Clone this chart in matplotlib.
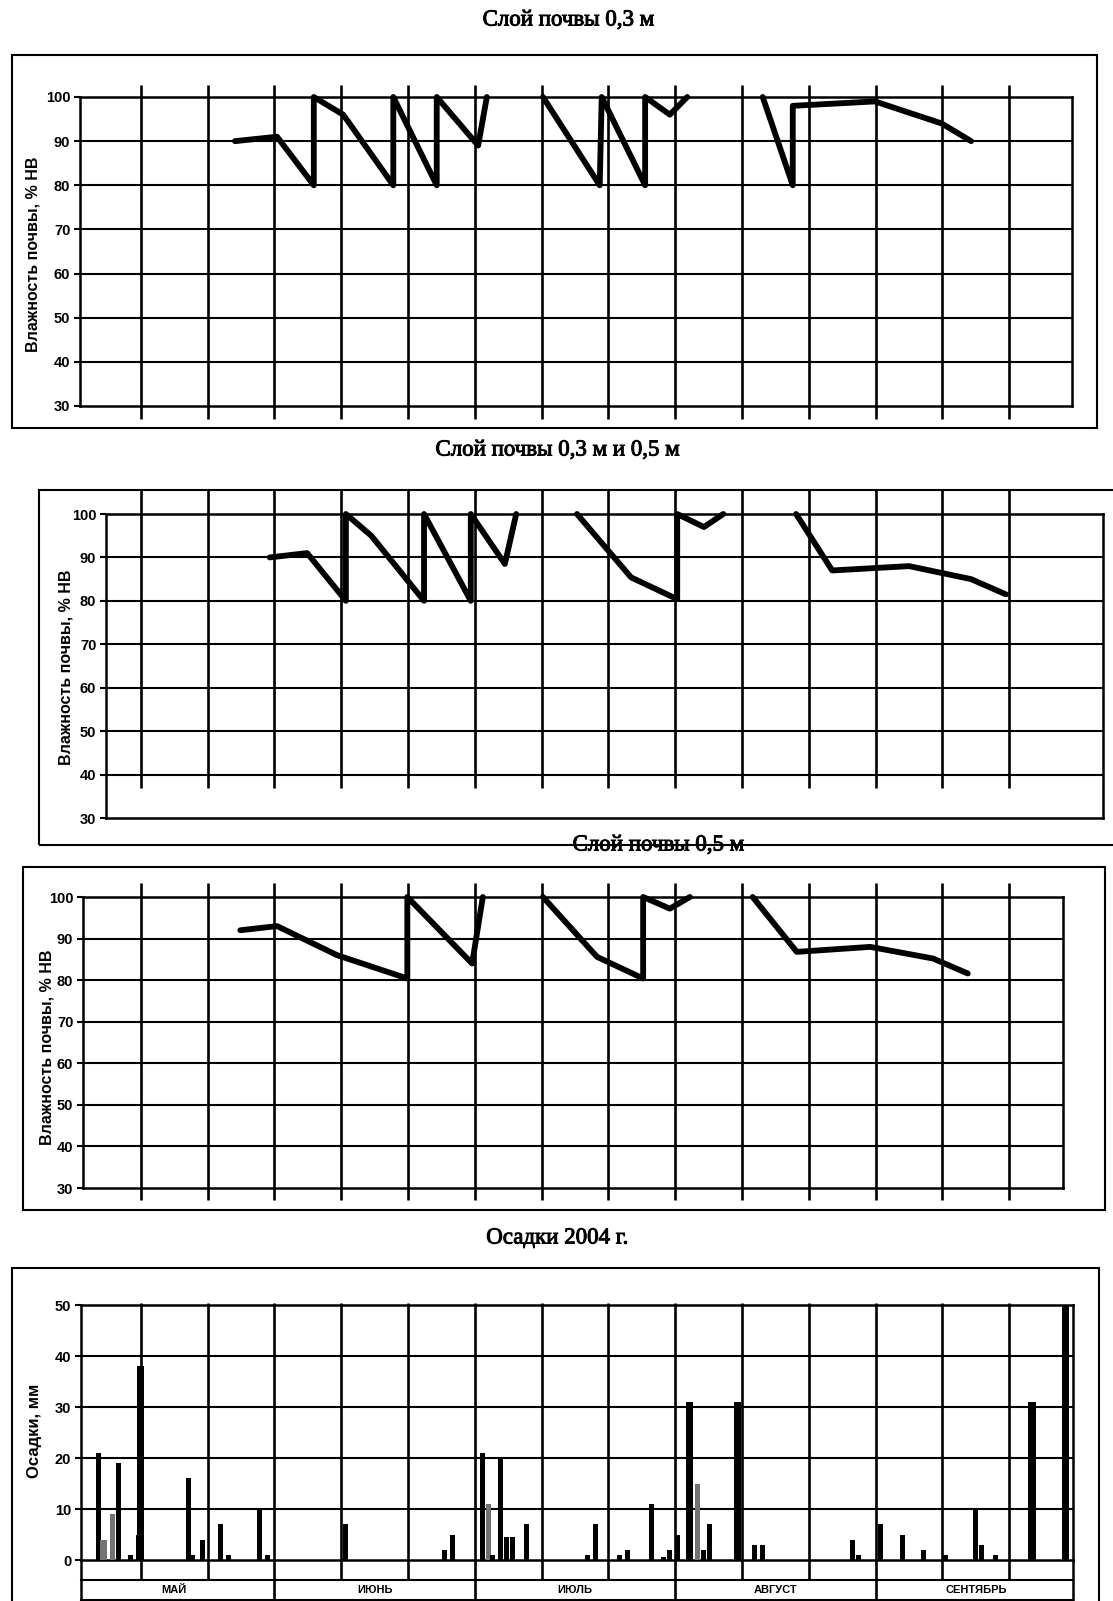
import numpy as np
import matplotlib
matplotlib.use("Agg")
import matplotlib.pyplot as plt
import matplotlib.transforms as mtransforms
import matplotlib.patheffects as pe
from matplotlib.patches import Rectangle

nan = np.nan

# ---------------- data ----------------
titles = ["Слой почвы 0,3 м", "Слой почвы 0,3 м и 0,5 м", "Слой почвы 0,5 м", "Осадки 2004 г."]
moist_label = "Влажность почвы, % НВ"
precip_label = "Осадки, мм"
months = ["МАЙ", "ИЮНЬ", "ИЮЛЬ", "АВГУСТ", "СЕНТЯБРЬ"]
moist_ticks = [30, 40, 50, 60, 70, 80, 90, 100]
precip_ticks = [0, 10, 20, 30, 40, 50]
dekad_bounds = [1, 2, 3, 4, 5, 6, 7, 8, 9, 10, 11, 12, 13, 14]
month_bounds = [3, 6, 9, 12]

# soil moisture, % НВ ; x = dekads counted from 1 May (nan = break of the line)
m03_x = [2.41, 3.04, 3.59, 3.59, 4.03, 4.78, 4.78, 5.43, 5.43, 6.05, 6.18, nan,
         7.02, 7.87, 7.90, 8.55, 8.55, 8.92, 9.18, nan,
         10.31, 10.76, 10.76, 11.99, 12.99, 13.43]
m03_y = [90, 91, 80, 100, 96, 80, 100, 80, 100, 89, 100, nan,
         100, 80, 100, 80, 100, 96, 100, nan,
         100, 80, 98, 99, 94, 90]

m0305_x = [2.93, 3.49, 4.07, 4.07, 4.45, 5.24, 5.24, 5.94, 5.94, 6.45, 6.62, nan,
           7.53, 8.34, 9.03, 9.03, 9.43, 9.72, nan,
           10.81, 11.35, 12.50, 13.43, 13.95]
m0305_y = [90, 91, 80, 100, 95, 80, 100, 80, 100, 88.5, 100, nan,
           100, 85.4, 80.4, 100, 97, 100, nan,
           100, 87, 88, 85, 81.5]

m05_x = [2.49, 3.04, 3.94, 4.99, 4.99, 5.96, 6.12, nan,
         7.02, 7.83, 8.52, 8.52, 8.92, 9.22, nan,
         10.16, 10.82, 11.92, 12.86, 13.38]
m05_y = [92, 93, 86, 80.4, 100, 84, 100, nan,
         100, 85.6, 80.4, 100, 97.2, 100, nan,
         100, 86.8, 88, 85.2, 81.6]

# precipitation, mm
precip_x = [0.36, 0.42, 0.46, 0.57, 0.66, 0.84, 0.96, 1.00, 1.71, 1.78, 1.92, 2.19, 2.31,
            2.78, 2.89, 4.06, 5.55, 5.67, 6.12, 6.20, 6.26, 6.38, 6.48, 6.57, 6.78,
            7.69, 7.80, 8.17, 8.28, 8.65, 8.82, 8.92, 9.03, 9.21, 9.33, 9.42, 9.52,
            9.93, 10.19, 10.31, 11.65, 11.74, 12.07, 12.41, 12.71, 13.04, 13.49, 13.59,
            13.79, 14.34, 14.84]
precip_mm = [21, 4, 4, 9, 19, 1, 5, 38, 16, 1, 4, 7, 1,
             10, 1, 7, 2, 5, 21, 11, 1, 20, 4.5, 4.5, 7,
             1, 7, 1, 2, 11, 0.5, 2, 5, 31, 15, 2, 7,
             31, 3, 3, 4, 1, 7, 5, 2, 1, 10, 3,
             1, 31, 50]
grey_bars = [0.42, 0.46, 0.57, 6.20, 9.33]

# ---------------- layout helpers ----------------
W, H = 1113, 1601
plt.rcParams['font.family'] = ['Liberation Sans', 'DejaVu Sans']
fig = plt.figure(figsize=(W / 100, H / 100), dpi=100)
fig.patch.set_facecolor('white')


def dk(px):
    return (px - 74.0) / 66.8


def add_frame(l, t, r, b):
    fig.add_artist(Rectangle((l / W, 1 - b / H), (r - l) / W, (b - t) / H,
                             transform=fig.transFigure, fill=False, lw=1.5, ec='black'))


def add_plot(l, t, r, b):
    ax = fig.add_axes([l / W, 1 - b / H, (r - l) / W, (b - t) / H])
    ax.set_xlim(dk(l), dk(r))
    for s in ax.spines.values():
        s.set_linewidth(1.8)
    ax.tick_params(axis='x', bottom=False, labelbottom=False)
    ax.tick_params(axis='y', length=4, width=1.5, pad=3, labelsize=10.5)
    return ax


def vlines(ax, positions, lo, hi, lw=1.9):
    tr = mtransforms.blended_transform_factory(ax.transData, ax.transAxes)
    for k in positions:
        ax.plot([k, k], [lo, hi], transform=tr, color='black', lw=lw,
                clip_on=False, zorder=1, solid_capstyle='butt')


def moisture(ax, x, y, lo, hi):
    ax.set_ylim(30, 100)
    ax.set_yticks(moist_ticks)
    ax.set_yticklabels([str(v) for v in moist_ticks], fontweight='bold')
    for v in moist_ticks[1:-1]:
        ax.axhline(v, color='black', lw=1.5, zorder=1)
    vlines(ax, dekad_bounds, lo, hi)
    ax.plot(x, y, color='black', lw=4.2, zorder=3, solid_joinstyle='round',
            solid_capstyle='round', clip_on=False)


def title(txt, x, y):
    fig.text(x / W, 1 - y / H, txt, ha='center', va='center', fontsize=16.5,
             family=['Liberation Serif', 'DejaVu Serif'],
             path_effects=[pe.withStroke(linewidth=0.7, foreground='black')])


def ylab(txt, x, y, size=11.5):
    fig.text(x / W, 1 - y / H, txt, ha='center', va='center', rotation=90,
             fontsize=size, fontweight='bold')


# ---------------- panel 1 ----------------
title(titles[0], 568, 20)
add_frame(12, 55, 1097, 428)
ax1 = add_plot(80, 97, 1072, 406)
moisture(ax1, m03_x, m03_y, -0.042, 1.039)
ylab(moist_label, 33, 254)

# ---------------- panel 2 ----------------
title(titles[1], 557, 450)
add_frame(39, 490, 1140, 845)
ax2 = add_plot(106, 514, 1103, 818)
moisture(ax2, m0305_x, m0305_y, 0.099, 1.079)
ylab(moist_label, 66, 667)

# ---------------- panel 3 ----------------
add_frame(23, 867, 1105, 1210)
title(titles[2], 658, 845)
ax3 = add_plot(83, 897, 1063, 1188)
moisture(ax3, m05_x, m05_y, -0.041, 1.048)
ylab(moist_label, 47, 1047)

# ---------------- panel 4 ----------------
title(titles[3], 557, 1238)
add_frame(12, 1268, 1099, 1650)
ax4 = add_plot(81, 1305, 1073, 1560)
ax4.set_ylim(0, 50)
ax4.set_yticks(precip_ticks)
ax4.set_yticklabels([str(v) for v in precip_ticks], fontweight='bold')
for v in precip_ticks[1:-1]:
    ax4.axhline(v, color='black', lw=1.5, zorder=1)
row1, row2 = -0.078, -0.157
vlines(ax4, dekad_bounds, row1, 1.008)
vlines(ax4, month_bounds, row2, row1)
tr4 = mtransforms.blended_transform_factory(ax4.transAxes, ax4.transAxes)
for yy in (row1, row2):
    ax4.plot([0, 1], [yy, yy], transform=tr4, color='black', lw=1.5, clip_on=False)
for xx in (0, 1):
    ax4.plot([xx, xx], [row2, 0], transform=tr4, color='black', lw=1.8, clip_on=False)
colors = ['0.45' if x in grey_bars else 'black' for x in precip_x]
widths = [0.11 if v >= 30 else 0.075 for v in precip_mm]
ax4.bar(precip_x, precip_mm, width=widths, color=colors, zorder=3, clip_on=False)
trm = mtransforms.blended_transform_factory(ax4.transData, ax4.transAxes)
for i, m in enumerate(months):
    ax4.text(3 * i + 1.5, (row1 + row2) / 2, m, transform=trm, ha='center', va='center',
             fontsize=8, fontweight='bold', clip_on=False)
ylab(precip_label, 35, 1431, size=12)

fig.savefig('out.png', dpi=100, facecolor='white')
